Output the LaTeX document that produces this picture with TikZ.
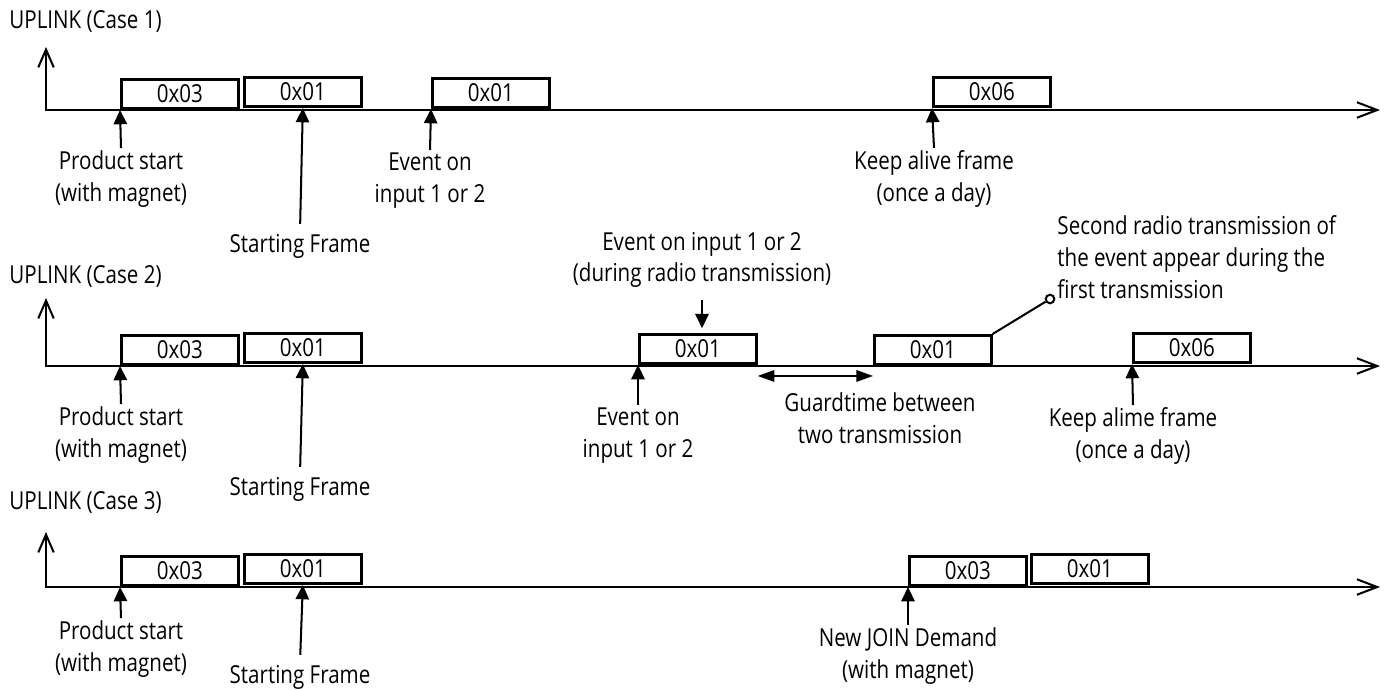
\documentclass[tikz,border=0pt]{standalone}
\usepackage{fontspec}
\setmainfont{Open Sans}[FakeStretch=0.83]
\usetikzlibrary{arrows.meta}

\begin{document}
\begin{tikzpicture}[
  x=0.42pt, y=-0.42pt, font=\fontsize{10.4}{13.4}\selectfont,
  axis/.style={{Straight Barb[length=7.5pt,width=6.5pt]}-{Straight Barb[length=8.5pt,width=6.5pt]},
               line width=0.85pt},
  pkt/.style={draw, line width=1.25pt, anchor=south west, inner sep=0pt,
              minimum width=49pt, minimum height=12.2pt},
  lab/.style={align=center, inner sep=1pt, anchor=north},
  pointer/.style={-{Triangle[length=6pt,width=5.6pt]}, line width=0.85pt},
  gap/.style={{Triangle[length=7pt,width=4.8pt]}-{Triangle[length=7pt,width=4.8pt]},
              line width=0.85pt},
]
\useasboundingbox (0,0) rectangle (1392,689);

% One uplink time line: label, axes, join request + starting frame.
% #1 case, #2 axis y, #3 tip y, #4 label base, #5 start label top, #6 frame label base
\newcommand{\uplinkrow}[6]{%
  \node[anchor=base west, inner sep=0pt] (case#1) at (9,#4) {UPLINK (Case #1)};
  \coordinate (top#1) at (46,#3);
  \coordinate (end#1) at (1380,#2);
  \draw[axis] (top#1) |- (end#1);
  \node[pkt] (jreq#1) at (120,#2) {0x03};
  \node[pkt] (start#1) at (243,#2-2) {0x01};
  \node[lab] (prod#1) at (121,#5) {Product start\\(with magnet)};
  \draw[pointer] (prod#1.north) -- (jreq#1.south west);
  \node[anchor=base, inner sep=1pt] (sfr#1) at (300,#6) {Starting Frame};
  \draw[pointer, shorten <=3pt] (sfr#1.north) -- (start#1.south);
}

\uplinkrow{1}{110}{47}{28}{148}{252}
\uplinkrow{2}{366}{298}{283}{404}{495}
\uplinkrow{3}{587}{532}{509}{618}{683}

% ---------------- case 1 ----------------
\node[pkt] (evt1) at (431,109) {0x01};
\node[pkt] (alive1) at (932,108) {0x06};
\node[lab] (evl1) at (430,150) {Event on\\input 1 or 2};
\draw[pointer] (evl1.north) -- (evt1.south west);
\node[lab] (kal1) at (934,148) {Keep alive frame\\(once a day)};
\draw[pointer] (kal1.north) -- (alive1.south west);

% ---------------- case 2 ----------------
\node[pkt] (evt2) at (638,365) {0x01};
\node[pkt] (rep2) at (873,366) {0x01};
\node[pkt] (alive2) at (1132,364) {0x06};
\node[lab] (evl2) at (638,405) {Event on\\input 1 or 2};
\draw[pointer] (evl2.north) -- (evt2.south west);
\node[lab] (during2) at (702,229) {Event on input 1 or 2\\(during radio transmission)};
\draw[pointer, shorten <=4pt, shorten >=2pt] (during2.south) -- (during2.south |- evt2.north);
\coordinate (gl2) at ([yshift=-4.6pt]evt2.south east);
\coordinate (gr2) at (gl2 -| rep2.west);
\draw[gap] (gl2) -- (gr2);
\node[lab] (guard2) at (880,390) {Guardtime between\\two transmission};
\node[circle, draw, line width=0.85pt, inner sep=0pt, minimum size=3.6pt] (knob2) at (1050,299) {};
\draw[line width=0.85pt] (rep2.north east) -- (knob2);
\node[align=left, anchor=north west, inner sep=0pt] (note2) at (1057,215)
  {Second radio transmission of\\the event appear during the\\first transmission};
\node[lab] (kal2) at (1133,405) {Keep alime frame\\(once a day)};
\draw[pointer] (kal2.north) -- (alive2.south west);

% ---------------- case 3 ----------------
\node[pkt] (jreq3b) at (908,587) {0x03};
\node[pkt] (start3b) at (1030,585) {0x01};
\node[lab] (join3) at (908,625) {New JOIN Demand\\(with magnet)};
\draw[pointer] (join3.north) -- (jreq3b.south west);
\end{tikzpicture}
\end{document}
